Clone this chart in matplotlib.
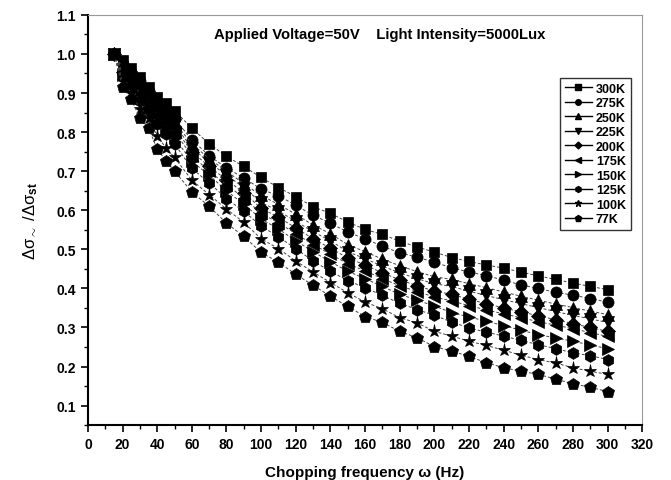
import numpy as np
import matplotlib
matplotlib.use("Agg")
import matplotlib.pyplot as plt
from matplotlib.lines import Line2D

plt.rcParams['font.family'] = ['Liberation Sans', 'DejaVu Sans']
plt.rcParams['font.weight'] = 'bold'
plt.rcParams['mathtext.fontset'] = 'custom'
plt.rcParams['mathtext.rm'] = 'Liberation Sans'
plt.rcParams['mathtext.it'] = 'Liberation Sans:italic'
plt.rcParams['mathtext.bf'] = 'Liberation Sans:bold'

# chopping frequency (Hz)
freq = [15, 20, 25, 30, 35, 40, 45, 50] + list(range(60, 301, 10))

labels = ['300K', '275K', '250K', '225K', '200K', '175K', '150K', '125K', '100K', '77K']
markers = ['s', 'o', '^', 'v', 'D', '<', '>', 'h', '*', 'p']

k300 = [1.0, 0.985, 0.965, 0.94, 0.915, 0.89, 0.875, 0.855,
        0.81, 0.77, 0.738, 0.712, 0.684, 0.658, 0.635, 0.609, 0.592, 0.570, 0.551, 0.538, 0.521,
        0.506, 0.493, 0.479, 0.469, 0.460, 0.452, 0.442, 0.432, 0.423, 0.414, 0.405, 0.397]
k275 = [1.0, 0.975, 0.955, 0.93, 0.905, 0.88, 0.86, 0.835,
        0.78, 0.74, 0.708, 0.683, 0.654, 0.637, 0.613, 0.587, 0.567, 0.544, 0.527, 0.508, 0.491,
        0.480, 0.467, 0.453, 0.442, 0.433, 0.421, 0.409, 0.400, 0.390, 0.383, 0.374, 0.365]
k250 = [1.0, 0.965, 0.945, 0.918, 0.895, 0.868, 0.848, 0.825,
        0.77, 0.732, 0.70, 0.668, 0.638, 0.615, 0.59, 0.562, 0.54, 0.512, 0.494, 0.475, 0.458,
        0.443, 0.43, 0.423, 0.412, 0.402, 0.391, 0.38, 0.37, 0.36, 0.351, 0.342, 0.333]
k225 = [1.0, 0.96, 0.94, 0.91, 0.89, 0.862, 0.842, 0.818,
        0.76, 0.722, 0.69, 0.658, 0.62, 0.598, 0.572, 0.545, 0.522, 0.494, 0.476, 0.457, 0.44,
        0.425, 0.412, 0.405, 0.393, 0.382, 0.371, 0.361, 0.351, 0.341, 0.331, 0.322, 0.313]
k200 = [1.0, 0.955, 0.935, 0.905, 0.885, 0.855, 0.835, 0.81,
        0.75, 0.712, 0.678, 0.645, 0.605, 0.582, 0.555, 0.527, 0.503, 0.478, 0.46, 0.44, 0.422,
        0.407, 0.393, 0.385, 0.372, 0.361, 0.35, 0.34, 0.33, 0.32, 0.31, 0.30, 0.29]
k175 = [1.0, 0.95, 0.93, 0.90, 0.875, 0.845, 0.825, 0.80,
        0.74, 0.70, 0.665, 0.632, 0.592, 0.568, 0.54, 0.512, 0.488, 0.463, 0.445, 0.425, 0.407,
        0.392, 0.378, 0.368, 0.356, 0.345, 0.335, 0.325, 0.315, 0.306, 0.297, 0.287, 0.277]
k150 = [1.0, 0.945, 0.925, 0.89, 0.865, 0.835, 0.81, 0.785,
        0.725, 0.69, 0.65, 0.615, 0.578, 0.552, 0.522, 0.494, 0.468, 0.444, 0.425, 0.405, 0.385,
        0.37, 0.355, 0.338, 0.327, 0.316, 0.305, 0.293, 0.282, 0.273, 0.265, 0.255, 0.246]
k125 = [1.0, 0.94, 0.915, 0.88, 0.855, 0.82, 0.795, 0.77,
        0.707, 0.67, 0.63, 0.597, 0.56, 0.532, 0.502, 0.47, 0.444, 0.42, 0.402, 0.382, 0.362,
        0.346, 0.331, 0.314, 0.299, 0.288, 0.278, 0.267, 0.256, 0.246, 0.235, 0.228, 0.218]
k100 = [1.0, 0.93, 0.90, 0.86, 0.835, 0.79, 0.76, 0.735,
        0.677, 0.64, 0.603, 0.569, 0.527, 0.502, 0.47, 0.442, 0.415, 0.389, 0.365, 0.348, 0.325,
        0.312, 0.29, 0.278, 0.265, 0.254, 0.242, 0.229, 0.218, 0.209, 0.197, 0.188, 0.18]
k77 = [1.0, 0.915, 0.885, 0.835, 0.81, 0.757, 0.727, 0.70,
       0.647, 0.61, 0.567, 0.533, 0.492, 0.467, 0.436, 0.408, 0.38, 0.354, 0.328, 0.313, 0.29,
       0.274, 0.251, 0.24, 0.226, 0.21, 0.197, 0.188, 0.18, 0.168, 0.156, 0.147, 0.136]

series = [k300, k275, k250, k225, k200, k175, k150, k125, k100, k77]
msizes = [7.5, 8, 8, 8, 7, 8, 8, 8.5, 9.5, 9]

fig = plt.figure(figsize=(6.71, 4.81), dpi=100)
ax = fig.add_axes([0.131, 0.114, 0.826, 0.853])

handles = []
for vals, lab, m, ms in zip(series, labels, markers, msizes):
    ax.plot(freq, vals, color='#444444', lw=0.7, ls=(0, (3, 2)),
            marker=m, ms=ms, mfc='black', mec='black', mew=0.5)
    handles.append(Line2D([], [], color='black', lw=1.0, marker=m, ms=ms * 0.5,
                          mfc='black', mec='black', label=lab))

ax.set_xlim(0, 320)
ax.set_ylim(0.05, 1.1)
ax.set_xticks(np.arange(0, 321, 20))
ax.set_xticks(np.arange(0, 321, 10), minor=True)
ax.set_yticks(np.round(np.arange(0.1, 1.11, 0.1), 1))
ax.set_yticks(np.arange(0.05, 1.11, 0.05), minor=True)
ax.set_yticklabels(['%.1f' % v for v in np.arange(0.1, 1.11, 0.1)])

for s in ['left', 'bottom']:
    ax.spines[s].set_linewidth(1.5)
for s in ['top', 'right']:
    ax.spines[s].set_linewidth(0.8)
    ax.spines[s].set_color('#999999')
ax.tick_params(which='major', direction='out', length=5, width=1.2, labelsize=10)
ax.tick_params(which='minor', direction='out', length=3, width=1.0)
ax.tick_params(top=False, right=False, which='both')
for t in ax.get_xticklabels() + ax.get_yticklabels():
    t.set_fontweight('bold')

ax.set_xlabel('Chopping frequency ω (Hz)', fontsize=11, fontweight='bold', labelpad=10)
ax.set_ylabel(r'Δσ$_{\sim}$ /Δσ$_{\mathbf{st}}$', fontsize=12, fontweight='normal', labelpad=12)

ax.text(0.527, 0.954, 'Applied Voltage=50V    Light Intensity=5000Lux',
        transform=ax.transAxes, ha='center', va='center', fontsize=10.7, fontweight='bold')

leg = ax.legend(handles=handles, loc='upper right', bbox_to_anchor=(0.991, 0.862),
                fontsize=9, frameon=True, fancybox=False, edgecolor='black',
                handlelength=2.2, handletextpad=0.3, labelspacing=0.2, borderpad=0.4)
leg.get_frame().set_linewidth(1.0)
for t in leg.get_texts():
    t.set_fontweight('bold')

fig.savefig('out.png', dpi=100)
